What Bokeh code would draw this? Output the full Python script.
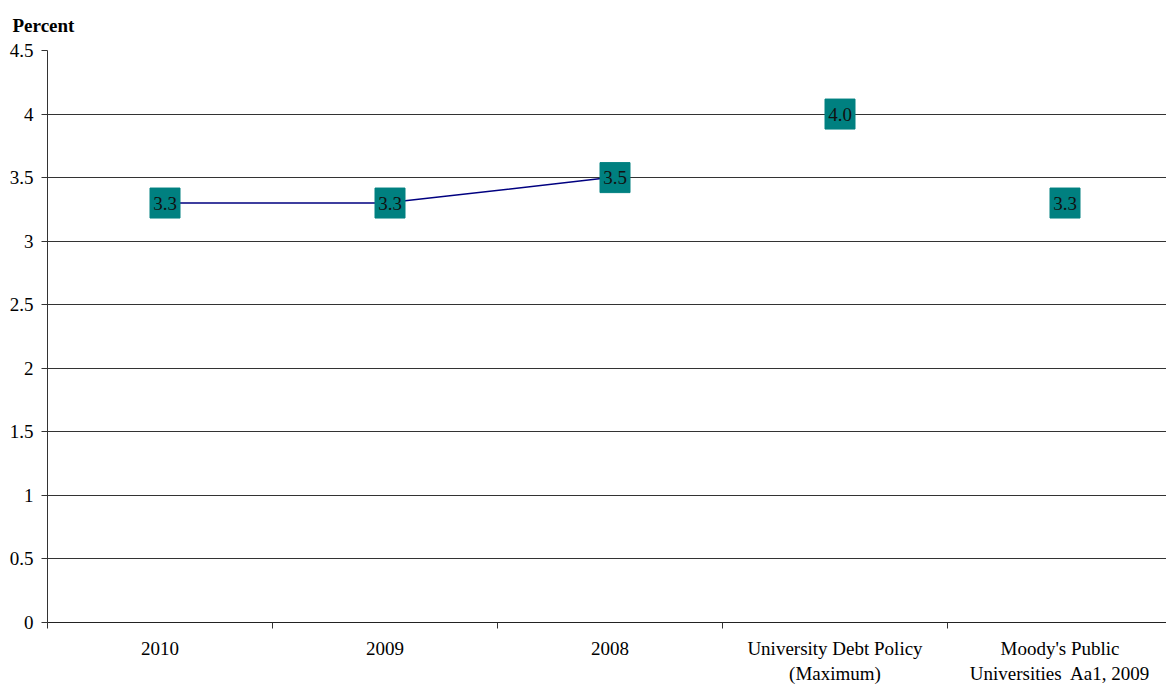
from bokeh.plotting import figure
from bokeh.models import (ColumnDataSource, FixedTicker, NumeralTickFormatter,
                          Range1d)
from bokeh.transform import dodge
from bokeh.embed import file_html
from bokeh.resources import INLINE

# Debt service as percent of operations
categories = ["2010", "2009", "2008",
              "University Debt Policy\n(Maximum)",
              "Moody's Public\nUniversities\u00a0 Aa1, 2009"]
values = [3.3, 3.3, 3.5, 4.0, 3.3]
trend_count = 3  # the first three points are joined as a yearly trend

xs = list(range(len(categories)))
labels = [f"{v:.1f}" for v in values]

src = ColumnDataSource(dict(x=xs, y=values, label=labels))
trend = ColumnDataSource(dict(x=xs[:trend_count], y=values[:trend_count]))

SERIF = "'Liberation Serif', 'Times New Roman', serif"
FS = "19px"

W, H = 1166, 686
left, top, bottom = 47, 50, 64
frame_w = W - left
cat_w = 225
x_end = -0.5 + frame_w / cat_w

p = figure(width=W, height=H, output_backend="svg", toolbar_location=None,
           x_range=Range1d(-0.5, x_end), y_range=Range1d(0, 4.5),
           min_border_left=left, min_border_right=0,
           min_border_top=top, min_border_bottom=bottom,
           title="Percent")

# unit caption in the top-left corner
p.title.text_font = SERIF
p.title.text_font_size = FS
p.title.text_font_style = "bold"
p.title.text_color = "black"
p.title.align = "left"
p.title.offset = 12 - left
p.title.vertical_align = "top"
p.title.standoff = 26

p.outline_line_color = None
p.background_fill_color = "white"
p.border_fill_color = "white"

# y axis
p.yaxis.ticker = FixedTicker(ticks=[i * 0.5 for i in range(10)])
p.yaxis.formatter = NumeralTickFormatter(format="0.[0]")
p.yaxis.major_label_text_font = SERIF
p.yaxis.major_label_text_font_size = FS
p.yaxis.major_label_text_color = "black"
p.yaxis.axis_line_color = "#333333"
p.yaxis.major_tick_line_color = "#333333"
p.yaxis.major_tick_out = 6
p.yaxis.major_tick_in = 0
p.yaxis.minor_tick_line_color = None
p.yaxis.major_label_standoff = 8

# x axis: labels at category centers, tick marks at the boundaries
p.xaxis.ticker = FixedTicker(ticks=xs, minor_ticks=[x - 0.5 for x in xs])
p.xaxis.major_label_overrides = {i: c for i, c in zip(xs, categories)}
p.xaxis.major_label_text_font = SERIF
p.xaxis.major_label_text_font_size = FS
p.xaxis.major_label_text_color = "black"
p.xaxis.major_tick_out = 0
p.xaxis.major_tick_in = 0
p.xaxis.minor_tick_out = 6
p.xaxis.minor_tick_in = 0
p.xaxis.minor_tick_line_color = "#333333"
p.xaxis.axis_line_color = "#222222"
p.xaxis.major_label_standoff = 9

p.xgrid.grid_line_color = None
p.ygrid.grid_line_color = "#333333"
p.ygrid.grid_line_width = 1

# value boxes sit slightly right of the category centre
box_x = dodge("x", 5 / cat_w, range=p.x_range)

p.line("x", "y", source=trend, line_color="#000080", line_width=1.5)
p.scatter(box_x, "y", source=src, marker="square", size=30,
          fill_color="#008080", line_color="#008080")
p.text(box_x, "y", text="label", source=src, text_align="center",
       text_baseline="middle", text_font=SERIF,
       text_font_size=FS, text_color="#111111")

open("out.html", "w").write(file_html(p, INLINE))
